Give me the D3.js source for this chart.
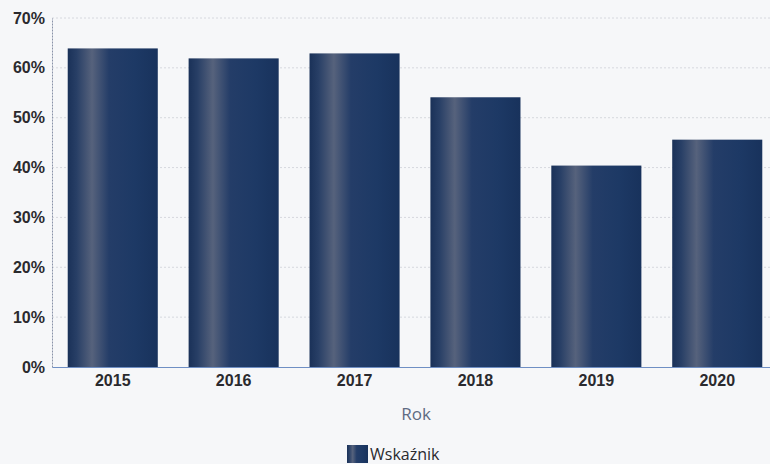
<!DOCTYPE html>
<html><head><meta charset="utf-8">
<script src="https://cdn.jsdelivr.net/npm/d3@7"></script>
<style>
html,body{margin:0;padding:0;background:#f6f7f9;}
svg{display:block;font-family:"Open Sans","DejaVu Sans",sans-serif;}
</style></head>
<body>
<svg id="chart" width="770" height="464"></svg>
<script>
const categories = ["2015","2016","2017","2018","2019","2020"];
const values = [63.9, 61.9, 62.9, 54.1, 40.4, 45.6];
const yTicks = [0,10,20,30,40,50,60,70];
const seriesName = "Wskaźnik";
const xTitle = "Rok";

const svg = d3.select("#chart");
const W = 770, H = 464;
const margin = {left:52, right:-8, top:18, bottom:97};

const x = d3.scaleBand().domain(categories).range([margin.left, W - margin.right]).paddingInner(0.255).paddingOuter(0.13);
const y = d3.scaleLinear().domain([0,70]).range([H - margin.bottom, margin.top]);

svg.append("rect").attr("width",W).attr("height",H).attr("fill","#f6f7f9");

const defs = svg.append("defs");
const g = defs.append("linearGradient").attr("id","barGrad").attr("x1","0").attr("x2","1").attr("y1","0").attr("y2","0");
[[0,"#1a3158"],[0.1,"#283f66"],[0.27,"#56627c"],[0.46,"#243d68"],[0.75,"#1d3965"],[1,"#18325c"]].forEach(([o,c])=>
  g.append("stop").attr("offset",o).attr("stop-color",c));

// gridlines
svg.append("g").selectAll("line").data(yTicks.filter(d=>d>0)).join("line")
  .attr("x1",margin.left).attr("x2",W).attr("y1",d=>y(d)).attr("y2",d=>y(d))
  .attr("stroke","#d6d8de").attr("stroke-width",1).attr("stroke-dasharray","2,2");

// y axis
const yAxis = d3.axisLeft(y).tickValues(yTicks).tickFormat(d=>d+"%").tickSize(0).tickPadding(7);
const ya = svg.append("g").attr("transform",`translate(${margin.left},0)`).call(yAxis);
ya.select(".domain").attr("stroke","#8a93a8").attr("stroke-dasharray","2,1");
ya.selectAll("text").attr("font-size",16).attr("font-weight",600).attr("fill","#2a2a2e").attr("dy","0.32em");

// bars
svg.append("g").selectAll("rect").data(values).join("rect")
  .attr("x",(d,i)=>x(categories[i])).attr("width",x.bandwidth())
  .attr("y",d=>y(d)).attr("height",d=>y(0)-y(d))
  .attr("fill","url(#barGrad)");

// x axis
const xAxis = d3.axisBottom(x).tickSize(0).tickPadding(8);
const xa = svg.append("g").attr("transform",`translate(0,${y(0)})`).call(xAxis);
xa.select(".domain").attr("stroke","#6f8fc4").attr("stroke-width",1.2);
xa.selectAll("text").attr("font-size",16).attr("font-weight",600).attr("fill","#2a2a2e");

// x title
svg.append("text").attr("x",416).attr("y",420).attr("text-anchor","middle")
  .attr("font-size",17).attr("fill","#5f6b82").text(xTitle);

// legend
const lg = svg.append("g").attr("transform","translate(347,445)");
lg.append("rect").attr("width",21).attr("height",18).attr("fill","url(#barGrad)");
lg.append("text").attr("x",23).attr("y",15).attr("font-size",16).attr("fill","#2a2a2e").text(seriesName);
</script>
</body></html>
